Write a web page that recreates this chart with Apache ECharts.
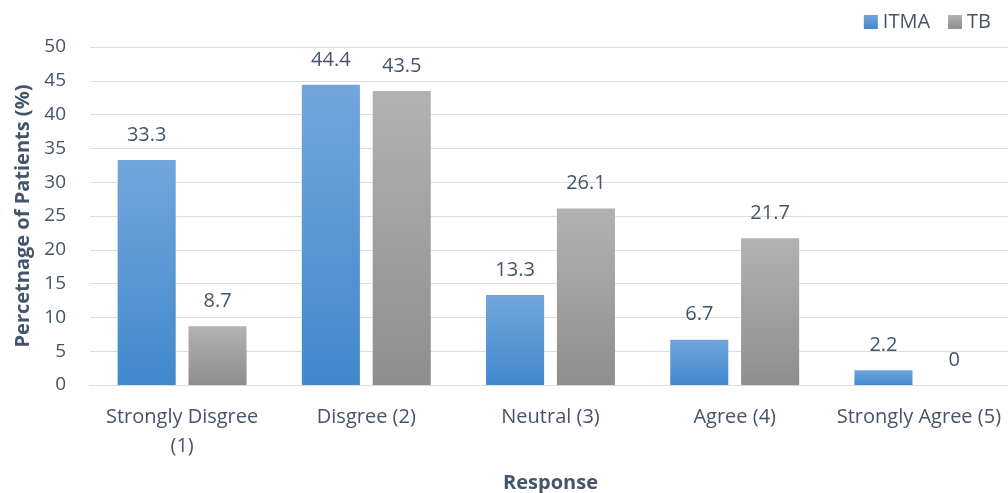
<!DOCTYPE html>
<html>
<head>
<meta charset="utf-8">
<script src="https://cdn.jsdelivr.net/npm/echarts@6/dist/echarts.min.js"></script>
<style>
  html, body { margin: 0; padding: 0; background: #fff; }
  #chart { width: 1008px; height: 493px; }
</style>
</head>
<body>
<div id="chart"></div>
<script>
const categories = ["Strongly Disgree\n(1)", "Disgree (2)", "Neutral (3)", "Agree (4)", "Strongly Agree (5)"];
const itma = [33.3, 44.4, 13.3, 6.7, 2.2];
const tb = [8.7, 43.5, 26.1, 21.7, 0];

const textColor = "#44546A";
const font = "Open Sans";

function grad(top, bottom) {
  return new echarts.graphic.LinearGradient(0, 0, 0, 1, [
    { offset: 0, color: top },
    { offset: 1, color: bottom },
  ]);
}

const chart = echarts.init(document.getElementById("chart"));
chart.setOption({
  animation: false,
  textStyle: { fontFamily: font },
  grid: { left: 90, right: -3, top: 47, bottom: 108, containLabel: false, outerBoundsMode: "none" },
  legend: {
    top: 7,
    right: 12,
    itemWidth: 14,
    itemHeight: 14,
    itemGap: 18,
    icon: "rect",
    textStyle: { color: textColor, fontSize: 20, fontFamily: font },
    data: ["ITMA", "TB"],
  },
  xAxis: {
    type: "category",
    data: categories,
    name: "Response",
    nameLocation: "middle",
    nameGap: 88,
    nameTextStyle: { color: textColor, fontSize: 20, fontWeight: "bold", fontFamily: font },
    axisLine: { lineStyle: { color: "#D9DCE1", width: 1 } },
    axisTick: { show: false },
    axisLabel: { interval: 0, color: textColor, fontSize: 20, margin: 18, lineHeight: 29, fontFamily: font },
  },
  yAxis: {
    type: "value",
    min: 0,
    max: 50,
    interval: 5,
    name: "Percetnage of Patients (%)",
    nameLocation: "middle",
    nameGap: 57,
    nameTextStyle: { color: textColor, fontSize: 20, fontWeight: "bold", fontFamily: font },
    axisLine: { show: false },
    axisTick: { show: false },
    axisLabel: { color: textColor, fontSize: 19, margin: 24, fontFamily: font },
    splitLine: { lineStyle: { color: "#D9DCE1", width: 1 } },
  },
  series: [
    {
      name: "ITMA",
      type: "bar",
      data: itma,
      barGap: "22%",
      barCategoryGap: "30%",
      itemStyle: { color: grad("#72A6DC", "#4188CD") },
      label: { show: true, position: "top", distance: 15, color: textColor, fontSize: 20, fontFamily: font },
    },
    {
      name: "TB",
      type: "bar",
      data: tb,
      itemStyle: { color: grad("#B2B2B2", "#8E8E8E") },
      label: { show: true, position: "top", distance: 15, color: textColor, fontSize: 20, fontFamily: font },
    },
  ],
});
</script>
</body>
</html>
